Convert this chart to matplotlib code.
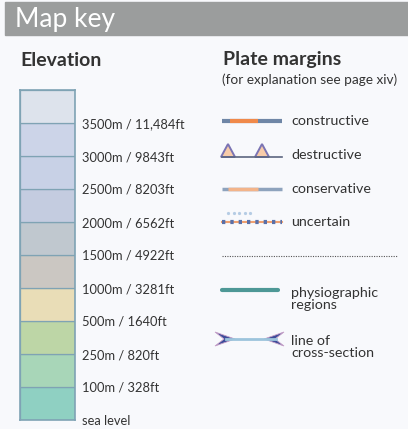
import matplotlib
matplotlib.use('Agg')
import matplotlib.pyplot as plt
from matplotlib.patches import Rectangle, Polygon
import numpy as np

plt.rcParams['font.family'] = ['Lato', 'DejaVu Sans']

# elevation bands, bottom to top
band_colors = ['#8fd0c2', '#a8d6b8', '#bdd6a6', '#e9ddb7', '#cbc7c2',
               '#c0c8cf', '#c4cce0', '#c8d1e6', '#ccd4e8', '#dde3ec']
elev_labels = ['sea level', '100m / 328ft', '250m / 820ft', '500m / 1640ft',
               '1000m / 3281ft', '1500m / 4922ft', '2000m / 6562ft',
               '2500m / 8203ft', '3000m / 9843ft', '3500m / 11,484ft']

plate_labels = ['constructive', 'destructive', 'conservative', 'uncertain']
other_labels = ['physiographic\nregions', 'line of\ncross-section']

W, H = 408, 429
txt = '#333333'

fig = plt.figure(figsize=(W / 100, H / 100), dpi=100)
fig.patch.set_facecolor('#f8f9fc')

# canvas in pixel coords
ax = fig.add_axes([0, 0, 1, 1])
ax.set_xlim(0, W)
ax.set_ylim(H, 0)
ax.axis('off')

# header band
ax.add_patch(Rectangle((5, 2), W - 5, 33, color='#9b9d9d', zorder=1))
ax.text(15, 20, 'Map key', color='white', fontsize=19, va='center', ha='left')

ax.text(20, 60, 'Elevation', color=txt, fontsize=14, fontweight='bold', va='center')
ax.text(223, 60, 'Plate margins', color=txt, fontsize=14, fontweight='bold', va='center')
ax.text(222, 80, '(for explanation see page xiv)', color=txt, fontsize=9.8, va='center')

# elevation bar
bx = fig.add_axes([20 / W, (H - 420) / H, 55 / W, 330 / H])
n = len(band_colors)
bx.bar(np.zeros(n), np.ones(n), bottom=np.arange(n), width=1,
       color=band_colors, edgecolor='#7fa3b4', linewidth=0.9)
bx.set_xlim(-0.5, 0.5)
bx.set_ylim(0, n)
bx.set_xticks([])
bx.set_yticks(np.arange(n))
bx.set_yticklabels(elev_labels, fontsize=9.3, color=txt)
bx.yaxis.tick_right()
bx.tick_params(axis='y', length=0, pad=5)
for s in bx.spines.values():
    s.set_color('#7fa3b4')
    s.set_linewidth(1.2)

# plate margin symbols
x0, x1 = 222, 282
rows = [121, 155, 189, 222]

y = rows[0]
ax.plot([x0, x1], [y, y], color='#6f86a6', lw=3, solid_capstyle='butt')
ax.plot([x0 + 8, x1 - 24], [y, y], color='#f0894a', lw=3, solid_capstyle='butt')

y = rows[1] + 2
ax.plot([x0, x1], [y, y], color='#5c6680', lw=1.2)
for cx in (228, 262):
    ax.add_patch(Polygon([[cx - 7, y], [cx, y - 13], [cx + 7, y]], closed=True,
                         facecolor='#f7cba9', edgecolor='#7b74b4', lw=1.4))

y = rows[2]
ax.plot([x0, x1], [y, y], color='#8ea3bd', lw=2.5, solid_capstyle='butt')
ax.plot([x0 + 6, x1 - 24], [y, y], color='#f3b48a', lw=2.5, solid_capstyle='butt')

y = rows[3]
ax.plot([x0, x1], [y, y], color='#f0a070', lw=1.5)
ax.plot([x0, x1], [y, y], color='#5a70a8', lw=3, linestyle=(0, (0.8, 1.2)))
ax.plot(np.linspace(228, 250, 5), [y - 9] * 5, 'o', color='#b5cce4', ms=1.3)

for lab, y in zip(plate_labels, rows):
    ax.text(291, y, lab, color=txt, fontsize=10.3, va='center')

ax.plot([222, 397], [256, 256], color='#555555', lw=0.8, linestyle=(0, (1, 1.2)))

# physiographic regions
y = 290
ax.plot([x0, x1 - 4], [y, y], color='#4e9896', lw=3, solid_capstyle='round')

# line of cross-section
y = 339
ax.plot([226, 276], [y, y], color='#9cc4dc', lw=2)
ax.add_patch(Polygon([[215, y - 7], [235, y], [215, y + 7], [224, y]], closed=True,
                     facecolor='#3d4d9a', edgecolor='#c8a0c8', lw=0.6))
ax.add_patch(Polygon([[284, y - 7], [264, y], [284, y + 7], [275, y]], closed=True,
                     facecolor='#3d4d9a', edgecolor='#c8a0c8', lw=0.6))

ax.text(291, 299, other_labels[0], color=txt, fontsize=10.3, va='center', linespacing=0.95)
ax.text(291, 347, other_labels[1], color=txt, fontsize=10.3, va='center', linespacing=0.95)

fig.savefig('out.png', dpi=100, facecolor=fig.get_facecolor())
